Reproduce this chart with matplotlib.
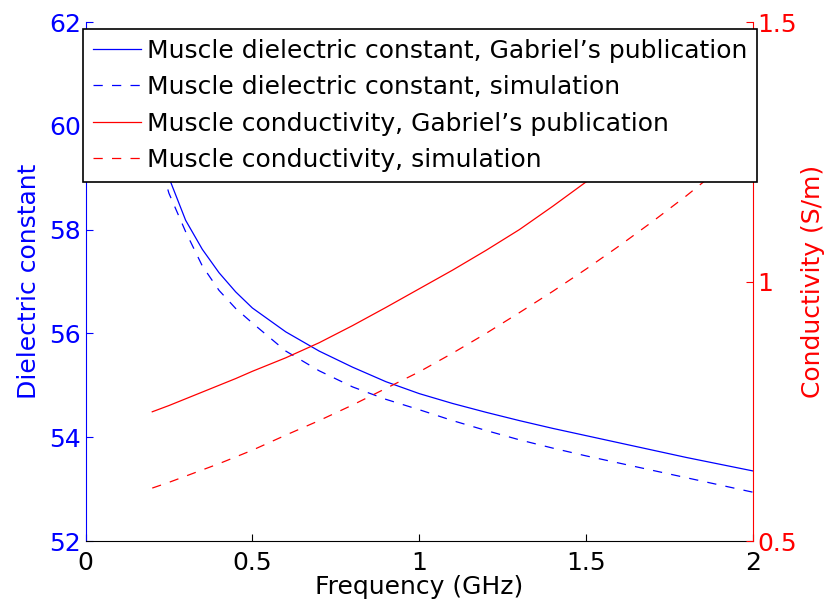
import numpy as np
import matplotlib
matplotlib.use("Agg")
import matplotlib.pyplot as plt

# frequency grid (GHz)
freq = [0.2, 0.25, 0.3, 0.35, 0.4, 0.45, 0.5, 0.6, 0.7, 0.8, 0.9, 1.0,
        1.1, 1.2, 1.3, 1.4, 1.5, 1.6, 1.7, 1.8, 1.9, 2.0]

# relative permittivity of muscle
eps_gabriel = [60.1, 59.0, 58.18, 57.62, 57.17, 56.80, 56.49, 56.03, 55.66,
               55.35, 55.07, 54.84, 54.65, 54.48, 54.32, 54.17, 54.03,
               53.89, 53.75, 53.61, 53.48, 53.35]
eps_sim = [59.8, 58.7, 57.96, 57.30, 56.83, 56.48, 56.20, 55.66, 55.28,
           54.97, 54.73, 54.53, 54.32, 54.13, 53.95, 53.79, 53.64, 53.50,
           53.36, 53.22, 53.08, 52.94]

# conductivity of muscle (S/m)
sigma_gabriel = [0.749, 0.761, 0.774, 0.787, 0.800, 0.813, 0.827, 0.853,
                 0.882, 0.915, 0.950, 0.986, 1.022, 1.060, 1.100, 1.145,
                 1.192, 1.24, 1.29, 1.34, 1.39, 1.45]
sigma_sim = [0.602, 0.613, 0.625, 0.637, 0.649, 0.662, 0.675, 0.704, 0.732,
             0.762, 0.794, 0.826, 0.862, 0.900, 0.940, 0.981, 1.024, 1.069,
             1.116, 1.165, 1.217, 1.27]

labels = [
    u"Muscle dielectric constant, Gabriel\u2019s publication",
    "Muscle dielectric constant, simulation",
    u"Muscle conductivity, Gabriel\u2019s publication",
    "Muscle conductivity, simulation",
]

fontsize = 18
plt.rcParams.update({
    "font.family": ["DejaVu Sans"],
    "font.size": fontsize,
})

fig = plt.figure(figsize=(8.35, 6.1), dpi=100)
ax1 = fig.add_axes([0.1024, 0.1131, 0.7994, 0.8508])
ax2 = ax1.twinx()

lw = 0.9
dash = (7.4, 7.4)
l1, = ax1.plot(freq, eps_gabriel, color="b", linewidth=lw)
l2, = ax1.plot(freq, eps_sim, color="b", linewidth=lw, dashes=dash)
l3, = ax2.plot(freq, sigma_gabriel, color="r", linewidth=lw)
l4, = ax2.plot(freq, sigma_sim, color="r", linewidth=lw, dashes=dash)

ax1.set_xlim(0, 2)
ax1.set_xticks([0, 0.5, 1, 1.5, 2])
ax1.set_xticklabels(["0", "0.5", "1", "1.5", "2"])
ax1.set_ylim(52, 62)
ax1.set_yticks(np.arange(52, 63, 2))
ax2.set_ylim(0.5, 1.5)
ax2.set_yticks([0.5, 1, 1.5])
ax2.set_yticklabels(["0.5", "1", "1.5"])

for ax in (ax1, ax2):
    ax.spines["top"].set_visible(False)
ax1.spines["right"].set_visible(False)
ax2.spines["left"].set_visible(False)
ax2.spines["bottom"].set_visible(False)
ax1.spines["left"].set_color("b")
ax2.spines["right"].set_color("r")
ax1.spines["bottom"].set_color("k")
for sp in ("left", "bottom"):
    ax1.spines[sp].set_linewidth(0.8)
ax2.spines["right"].set_linewidth(0.8)

ax1.tick_params(axis="x", direction="in", length=5, width=0.8, colors="k",
                pad=7, labelsize=fontsize)
ax1.tick_params(axis="y", direction="in", length=5, width=0.8, colors="b",
                pad=3, labelsize=fontsize)
ax2.tick_params(axis="y", direction="in", length=5, width=0.8, colors="r",
                pad=3, labelsize=fontsize)

ax1.set_xlabel("Frequency (GHz)", color="k", labelpad=0)
ax1.set_ylabel("Dielectric constant", color="b", labelpad=6)
ax2.set_ylabel("Conductivity (S/m)", color="r", labelpad=3)

leg = ax2.legend(
    [l1, l2, l3, l4], labels,
    loc="upper left",
    bbox_to_anchor=(-0.0033, 0.0, 1.0093, 0.9875),
    mode="expand",
    fancybox=False,
    framealpha=1.0,
    edgecolor="k",
    handlelength=1.9,
    handletextpad=0.25,
    labelspacing=0.5,
    borderpad=0.4,
    borderaxespad=0.0,
    fontsize=fontsize,
)
leg.get_frame().set_linewidth(1.2)

fig.savefig("out.png", dpi=100)
